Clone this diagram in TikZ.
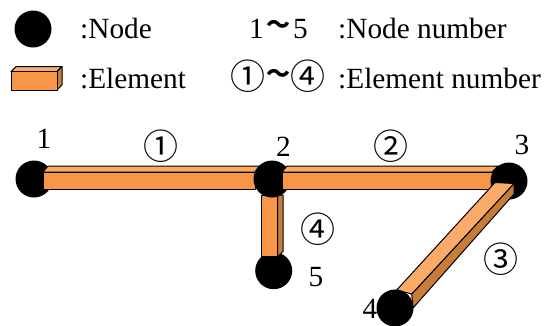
\documentclass[tikz,border=0pt]{standalone}
\usepackage{fontspec}
\setmainfont{Liberation Serif}
\newfontfamily\cjkfont{Noto Sans CJK JP}
\definecolor{elfront}{HTML}{F79646}
\definecolor{eltop}{HTML}{FAAB68}
\definecolor{elside}{HTML}{C77C38}
\tikzset{
  joint/.style={circle,fill=black,draw=none,minimum size=37pt,inner sep=0pt},
  lbl/.style={inner sep=0pt,font=\fontsize{29.3}{32}\selectfont},
  txt/.style={lbl,anchor=base west},
  num/.style={lbl,anchor=center},
  cnum/.style={inner sep=0pt,anchor=center,font=\fontsize{35}{38}\selectfont\cjkfont},
  wave/.style={inner sep=0pt,anchor=center,font=\fontsize{24}{26}\selectfont\cjkfont\bfseries},
  front/.style={fill=elfront,draw=black,line width=1pt,line join=round},
  topf/.style={fill=eltop,draw=black,line width=1pt,line join=round},
  sidef/.style={fill=elside,draw=black,line width=1pt,line join=round}
}
\begin{document}
\begin{tikzpicture}[x=1pt,y=-1pt]
\useasboundingbox (0,0) rectangle (552,325);
% legend
\node[joint] (legnode) at (33,29) {};
\draw[topf] (11,71.5) -- (16,66.7) -- (62,66.7) -- (57,71.5) -- cycle;
\draw[sidef] (57,71.5) -- (62,66.7) -- (62,85) -- (57,90) -- cycle;
\draw[front] (11,71.5) rectangle (57,90);
\node[txt] (t1) at (80,38) {:Node};
\node[txt] (t2) at (80,88) {:Element};
\node[txt] (t3) at (249,38) {1};
\node[wave] (t4) at (278,27) {～};
\node[txt] (t5) at (293,38) {5};
\node[txt] (t6) at (338,38) {:Node number};
\node[cnum] (t7) at (248,76) {①};
\node[wave] (t8) at (278,76) {～};
\node[cnum] (t9) at (308,76) {④};
\node[txt] (t10) at (338,88) {:Element number};
% nodes and elements, back to front
\node[joint] (n5) at (273.7,270.7) {};
\node[joint] (n1) at (34,179) {};
% element 1
\draw[topf] (43,172) -- (48,166) -- (260,166) -- (255,172) -- cycle;
\draw[front] (43,172) rectangle (255,189);
% element 4
\draw[sidef] (277.7,195) -- (283,195) -- (283,251.5) -- (277.7,256.7) -- cycle;
\draw[front] (261.7,195) rectangle (277.7,256.7);
\node[joint] (n2) at (272,179) {};
% element 2
\draw[topf] (282,172) -- (287,166) -- (498,166) -- (492,172) -- cycle;
\draw[front] (282,172) rectangle (492,189);
\node[joint] (n3) at (509,181) {};
% element 3
\draw[sidef] (514,183.5) -- (514,194) -- (413,308) -- (411.7,294) -- cycle;
\draw[topf] (495,182.5) -- (514,183.5) -- (411.7,294) -- (396.7,290) -- cycle;
\node[joint] (n4) at (395,308) {};
% numbers
\node[num] (l1) at (44,139) {1};
\node[num] (l2) at (283.5,147) {2};
\node[num] (l3) at (522,145) {3};
\node[num] (l4) at (370,309) {4};
\node[num] (l5) at (316,277) {5};
\node[cnum] (e1) at (161,146) {①};
\node[cnum] (e2) at (391,146) {②};
\node[cnum] (e3) at (501,259) {③};
\node[cnum] (e4) at (318,229) {④};
\end{tikzpicture}
\end{document}
